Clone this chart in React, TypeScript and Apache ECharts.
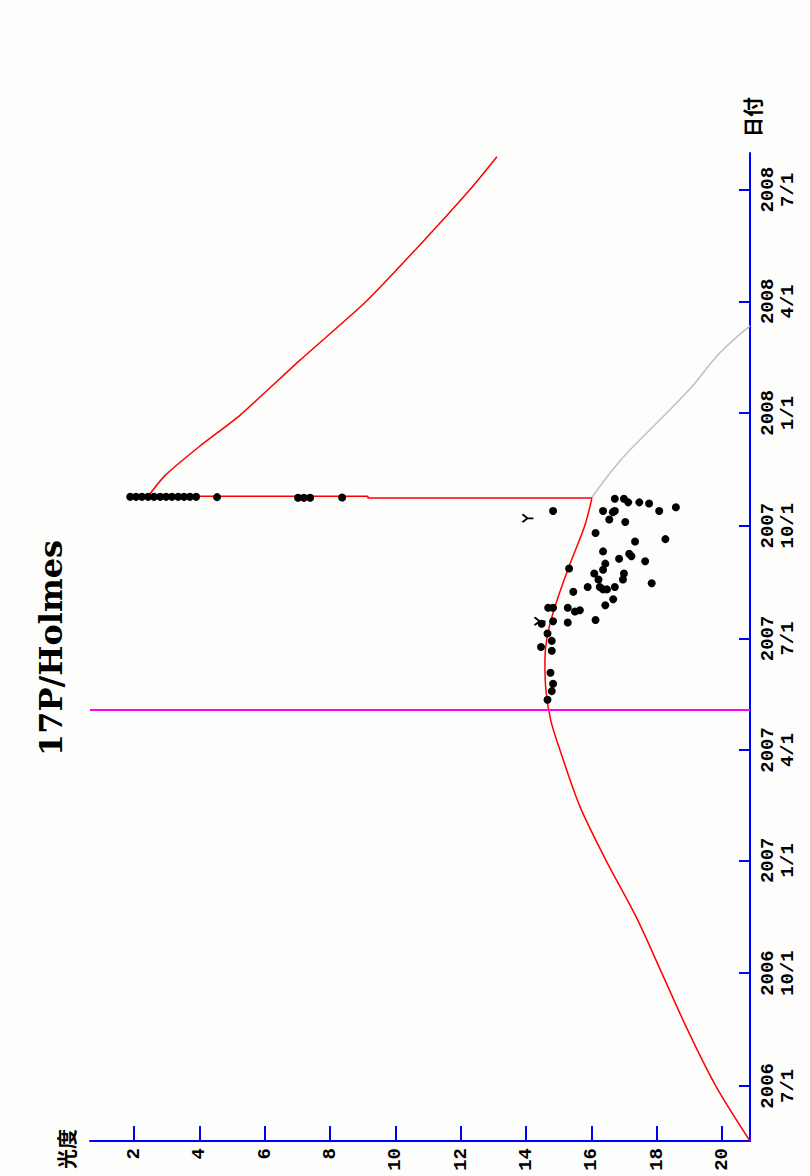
import React, { useEffect, useRef } from "react";
import * as echarts from "echarts";

// magnitude axis ticks
const MAG_TICKS = [2, 4, 6, 8, 10, 12, 14, 16, 18, 20];
// date axis ticks
const DATE_TICKS = [
  "2006-07-01", "2006-10-01", "2007-01-01", "2007-04-01", "2007-07-01",
  "2007-10-01", "2008-01-01", "2008-04-01", "2008-07-01",
];
const DATE_MIN = "2006-05-17";
const DATE_MAX = "2008-07-31";
const MAG_MIN = 0.65;
const MAG_MAX = 20.86;
const PERIHELION = "2007-05-04";

// predicted light curve before outburst [magnitude, date]
const predicted: [number, string][] = [
  [20.86, "2006-05-17"],
  [19.81, "2006-07-01"],
  [18.96, "2006-08-15"],
  [18.16, "2006-10-01"],
  [17.37, "2006-11-16"],
  [16.45, "2007-01-01"],
  [15.65, "2007-02-14"],
  [15.04, "2007-04-01"],
  [14.76, "2007-04-25"],
  [14.61, "2007-05-20"],
  [14.58, "2007-06-13"],
  [14.64, "2007-07-01"],
  [14.83, "2007-07-22"],
  [15.28, "2007-08-26"],
  [15.8, "2007-10-01"],
  [16.02, "2007-10-23 12:00"],
];
// outburst jump
const outburst: [number, string][] = [
  [16.02, "2007-10-23 12:00"],
  [9.16, "2007-10-23 12:00"],
  [9.16, "2007-10-25 00:00"],
  [2.43, "2007-10-25 00:00"],
];
// predicted curve after outburst
const afterOutburst: [number, string][] = [
  [2.43, "2007-10-25"],
  [2.95, "2007-11-11"],
  [4.02, "2007-12-05"],
  [5.24, "2007-12-30"],
  [7.08, "2008-02-13"],
  [9.07, "2008-03-31"],
  [10.75, "2008-05-17"],
  [12.28, "2008-07-01"],
  [13.11, "2008-07-28"],
];
// original prediction without outburst (gray)
const original: [number, string][] = [
  [16.02, "2007-10-24"],
  [16.85, "2007-11-22"],
  [17.79, "2007-12-18"],
  [19.0, "2008-01-20"],
  [19.94, "2008-02-19"],
  [20.86, "2008-03-12"],
];
// observations [magnitude, date]
const observations: [number, string][] = [
  [1.88, "2007-10-24 12:00"], [2.06, "2007-10-24 12:00"], [2.24, "2007-10-24 12:00"],
  [2.43, "2007-10-24 12:00"], [2.61, "2007-10-24 12:00"], [2.8, "2007-10-24 12:00"],
  [2.98, "2007-10-24 12:00"], [3.16, "2007-10-24 12:00"], [3.35, "2007-10-24 12:00"],
  [3.53, "2007-10-24 12:00"], [3.71, "2007-10-24 12:00"], [3.9, "2007-10-24 12:00"],
  [4.54, "2007-10-24 06:00"], [7.02, "2007-10-23 18:00"], [7.2, "2007-10-23 18:00"],
  [7.39, "2007-10-23 18:00"], [8.37, "2007-10-24 00:00"],
  [14.83, "2007-10-13"], [16.72, "2007-10-23"], [17.0, "2007-10-23"], [17.13, "2007-10-20"],
  [17.47, "2007-10-20"], [17.77, "2007-10-19"], [18.59, "2007-10-16"], [18.08, "2007-10-13"],
  [16.36, "2007-10-13"], [16.72, "2007-10-13"], [16.66, "2007-10-12"], [16.55, "2007-10-06"],
  [17.04, "2007-10-04"], [16.13, "2007-09-25"], [17.34, "2007-09-18"], [18.27, "2007-09-20"],
  [16.36, "2007-09-10"], [17.16, "2007-09-08"], [17.23, "2007-09-06"], [17.65, "2007-09-02"],
  [16.85, "2007-09-04"], [16.43, "2007-08-31"], [15.32, "2007-08-27"], [16.36, "2007-08-26"],
  [16.09, "2007-08-23"], [17.0, "2007-08-23"], [16.22, "2007-08-18"], [16.97, "2007-08-18"],
  [17.85, "2007-08-15"], [16.26, "2007-08-12"], [16.36, "2007-08-10"], [16.48, "2007-08-10"],
  [16.72, "2007-08-12"], [15.89, "2007-08-12"], [15.45, "2007-08-08"], [16.67, "2007-08-02"],
  [16.43, "2007-07-28"], [14.68, "2007-07-26"], [14.83, "2007-07-26"], [15.28, "2007-07-26"],
  [15.5, "2007-07-23"], [15.65, "2007-07-24"], [15.28, "2007-07-14"], [16.13, "2007-07-16"],
  [14.83, "2007-07-15"], [14.48, "2007-07-13"], [14.66, "2007-07-05"], [14.79, "2007-06-29"],
  [14.46, "2007-06-24"], [14.79, "2007-06-21"], [14.75, "2007-06-03"], [14.83, "2007-05-25"],
  [14.79, "2007-05-19"], [14.66, "2007-05-12"],
];
// upper-limit marks
const limits: [number, string][] = [
  [14.06, "2007-10-07"],
  [14.43, "2007-07-15"],
];

const TITLE = "17P/Holmes";
const X_NAME = "光度";
const Y_NAME = "日付";

const ts = (s: string) => {
  const [datePart, timePart] = s.split(" ");
  const [y, m, d] = datePart.split("-").map(Number);
  const [hh, mm] = timePart ? timePart.split(":").map(Number) : [0, 0];
  return new Date(y, m - 1, d, hh, mm).getTime();
};
const conv = (arr: [number, string][]) => arr.map(([m, d]) => [m, ts(d)]);

export default function App() {
  const ref = useRef<HTMLDivElement>(null);
  useEffect(() => {
    if (!ref.current) return;
    const chart = echarts.init(ref.current, null, { renderer: "svg" });
    const blue = "#0000ff";
    const labelFont = "'Liberation Mono', monospace";
    const dateTicks = DATE_TICKS.map(ts);
    chart.setOption({
      animation: false,
      backgroundColor: "#fdfdfb",
      grid: { left: 90, right: 60, top: 153, bottom: 35 },
      xAxis: {
        type: "value",
        min: MAG_MIN,
        max: MAG_MAX,
        position: "bottom",
        axisLine: { lineStyle: { color: blue, width: 2 } },
        axisTick: { inside: true, length: 15, customValues: MAG_TICKS, lineStyle: { color: blue, width: 2 } },
        axisLabel: {
          customValues: MAG_TICKS,
          rotate: 90,
          margin: 7,
          color: "#000",
          fontFamily: labelFont,
          fontWeight: "bold",
          fontSize: 19,
        },
        splitLine: { show: false },
      },
      yAxis: {
        type: "value",
        position: "right",
        min: ts(DATE_MIN),
        max: ts(DATE_MAX),
        axisLine: { lineStyle: { color: blue, width: 2 } },
        axisTick: { inside: true, length: 11, customValues: dateTicks, lineStyle: { color: blue, width: 2 } },
        axisLabel: {
          customValues: dateTicks,
          rotate: 90,
          margin: 8,
          color: "#000",
          fontFamily: labelFont,
          fontWeight: "bold",
          fontSize: 19,
          lineHeight: 20,
          formatter: (v: number) => {
            const d = new Date(v);
            return d.getFullYear() + "\n" + (d.getMonth() + 1) + "/" + d.getDate();
          },
        },
        splitLine: { show: false },
      },
      graphic: [
        {
          type: "text",
          x: 51,
          y: 648,
          rotation: Math.PI / 2,
          style: { text: TITLE, font: "bold 32px 'DejaVu Serif'", fill: "#000", textAlign: "center", textVerticalAlign: "middle" },
        },
        {
          type: "text",
          x: 66,
          y: 1149,
          rotation: Math.PI / 2,
          style: { text: X_NAME, font: "bold 20px 'Noto Sans CJK JP'", fill: "#000", textAlign: "center", textVerticalAlign: "middle" },
        },
        {
          type: "text",
          x: 752,
          y: 117,
          rotation: Math.PI / 2,
          style: { text: Y_NAME, font: "bold 20px 'Noto Sans CJK JP'", fill: "#000", textAlign: "center", textVerticalAlign: "middle" },
        },
      ],
      series: [
        {
          type: "line",
          data: conv(original),
          showSymbol: false,
          smooth: 0.4,
          lineStyle: { color: "#c0c0c0", width: 1.5 },
          z: 1,
        },
        {
          type: "line",
          data: conv(predicted),
          showSymbol: false,
          smooth: 0.3,
          lineStyle: { color: "#ff0000", width: 1.5 },
          markLine: {
            silent: true,
            symbol: "none",
            label: { show: false },
            lineStyle: { color: "#ff00ff", width: 2, type: "solid" },
            data: [{ yAxis: ts(PERIHELION) }],
          },
          z: 2,
        },
        {
          type: "line",
          data: conv(outburst),
          showSymbol: false,
          lineStyle: { color: "#ff0000", width: 1.5 },
          z: 2,
        },
        {
          type: "line",
          data: conv(afterOutburst),
          showSymbol: false,
          smooth: 0.2,
          lineStyle: { color: "#ff0000", width: 1.5 },
          z: 2,
        },
        {
          type: "scatter",
          data: conv(observations),
          symbol: "circle",
          symbolSize: 8,
          itemStyle: { color: "#000", opacity: 1 },
          z: 3,
        },
        {
          type: "scatter",
          data: conv(limits),
          symbol: "path://M0,0 L5,4 L0,8 M5,4 L11,4",
          symbolSize: [11, 8],
          itemStyle: { color: "transparent", borderColor: "#000", borderWidth: 2, opacity: 1 },
          z: 3,
        },
      ],
    });
    return () => chart.dispose();
  }, []);
  return (
    <div
      ref={ref}
      style={{ position: "fixed", left: 0, top: 0, width: 810, height: 1176 }}
    />
  );
}
